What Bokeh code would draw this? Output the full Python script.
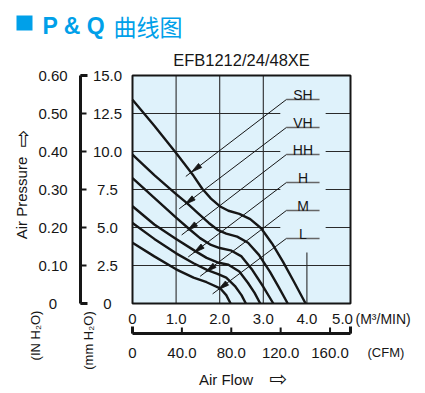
import math
from bokeh.plotting import figure
from bokeh.models import Range1d
from bokeh.embed import file_html
from bokeh.resources import INLINE
from bokeh.core.properties import value

FONT = "Liberation Sans"
BLUE = "#00a0e9"
BG = "#dff2fb"
INK = "#161616"

# ---------------- data ----------------
flow_ticks = [0, 1, 2, 3, 4, 5]
flow_tick_labels = ["0", "1.0", "2.0", "3.0", "4.0", "5.0"]
cfm_ticks = [0, 40, 80, 120, 160]
cfm_tick_labels = ["0", "40.0", "80.0", "120.0", "160.0"]
cfm_per_flow = 35.3147
mm_ticks = [0, 2.5, 5, 7.5, 10, 12.5, 15]
mm_tick_labels = ["0", "2.5", "5.0", "7.5", "10.0", "12.5", "15.0"]
in_ticks = [0, 0.1, 0.2, 0.3, 0.4, 0.5, 0.6]
in_tick_labels = ["0", "0.10", "0.20", "0.30", "0.40", "0.50", "0.60"]
mm_per_in_scale = 25.0

speed_names = ["SH", "VH", "HH", "H", "M", "L"]
sh_flow = [0, 0.5, 1.0, 1.4, 1.6, 1.8, 2.0, 2.2, 2.45, 2.7, 2.95, 3.2, 3.45, 3.7, 3.97]
sh_pres = [13.4, 11.7, 9.9, 8.4, 7.55, 6.9, 6.4, 6.1, 5.9, 5.55, 4.95, 3.95, 2.75, 1.45, 0]
vh_flow = [0, 0.5, 1.0, 1.25, 1.5, 1.75, 1.95, 2.15, 2.4, 2.65, 2.9, 3.15, 3.35, 3.56]
vh_pres = [9.8, 8.45, 7.2, 6.6, 5.95, 5.3, 4.85, 4.6, 4.4, 4.0, 3.2, 2.1, 1.1, 0]
hh_flow = [0, 0.5, 1.0, 1.3, 1.55, 1.8, 2.0, 2.25, 2.5, 2.75, 3.0, 3.23]
hh_pres = [8.25, 6.95, 5.65, 4.9, 4.3, 3.85, 3.65, 3.5, 3.1, 2.2, 1.1, 0]
h_flow = [0, 0.5, 1.0, 1.45, 1.7, 1.95, 2.2, 2.45, 2.65, 2.8, 2.93]
h_pres = [6.4, 5.2, 4.25, 3.43, 3.0, 2.7, 2.55, 2.1, 1.35, 0.7, 0]
m_flow = [0, 0.5, 1.0, 1.4, 1.72, 1.95, 2.15, 2.35, 2.5, 2.6]
m_pres = [5.3, 4.25, 3.3, 2.65, 2.2, 1.95, 1.7, 1.15, 0.55, 0]
l_flow = [0, 0.5, 1.0, 1.4, 1.7, 2.01, 2.15, 2.25]
l_pres = [4.0, 3.1, 2.25, 1.7, 1.4, 1.0, 0.55, 0]

curves_flow = [sh_flow, vh_flow, hh_flow, h_flow, m_flow, l_flow]
curves_pres = [sh_pres, vh_pres, hh_pres, h_pres, m_pres, l_pres]

# speed label callouts
label_level = [13.42, 11.58, 9.80, 7.96, 6.12, 4.28]
label_center = 3.91
underline_from, underline_to = 3.53, 4.29
arrow_tip_flow = [1.35, 1.20, 1.255, 1.406, 1.68, 1.966]
arrow_tip_pres = [8.64, 6.51, 4.79, 3.34, 2.07, 0.91]

# grid gaps (label area)
gap_left, gap_right, gap_bottom = 3.39, 4.43, 3.36

# ---------------- layout (pixel placement of chart) ----------------
W, H = 420, 392
OX, OY = 132, 303          # pixel of chart origin (0 flow, 0 pressure)
KX, KY = 43.6, 15.2        # pixels per unit


def fx(px):
    return (px - OX) / KX


def fy(py):
    return (OY - py) / KY


p = figure(width=W, height=H, x_range=Range1d(fx(0), fx(W)), y_range=Range1d(fy(H), fy(0)),
           output_backend="svg", toolbar_location=None,
           x_axis_location=None, y_axis_location=None, min_border=0,
           background_fill_color="white", border_fill_color="white")
p.outline_line_color = None
p.grid.visible = False
p.title.visible = False

x_lo, x_hi = flow_ticks[0], flow_ticks[-1]
y_lo, y_hi = mm_ticks[0], mm_ticks[-1]

# chart background
p.quad(left=[x_lo], right=[x_hi], bottom=[y_lo], top=[y_hi], fill_color=BG, line_color=None)

# grid
gx0, gy0, gx1, gy1 = [], [], [], []
for t in flow_ticks[1:4]:
    gx0.append(t); gy0.append(y_lo); gx1.append(t); gy1.append(y_hi)
gx0.append(flow_ticks[4]); gy0.append(y_lo); gx1.append(flow_ticks[4]); gy1.append(gap_bottom)
for t in mm_ticks[1:-1]:
    if t < gap_bottom:
        gx0.append(x_lo); gy0.append(t); gx1.append(x_hi); gy1.append(t)
    else:
        gx0 += [x_lo, gap_right]; gy0 += [t, t]; gx1 += [gap_left, x_hi]; gy1 += [t, t]
p.segment(gx0, gy0, gx1, gy1, line_color="#2a2a2a", line_width=1.1)

# curves
for cx, cy in zip(curves_flow, curves_pres):
    p.line(cx, cy, line_color=INK, line_width=2.4, line_join="round")

# callouts
p.segment([underline_from] * 6, label_level, [underline_to] * 6, label_level,
          line_color="#666666", line_width=1.5)
p.text([label_center] * 6, [v + 0.3 for v in label_level], text=speed_names,
       text_align="center", text_baseline="alphabetic", text_font=value(FONT),
       text_font_size="14px", text_color=INK)

lx0, ly0, lx1, ly1, hx, hy = [], [], [], [], [], []
for i in range(6):
    sx, sy = underline_from, label_level[i]
    tx, ty = arrow_tip_flow[i], arrow_tip_pres[i]
    dxp, dyp = (tx - sx) * KX, (ty - sy) * KY
    L = math.hypot(dxp, dyp)
    ux, uy = dxp / L, dyp / L
    lx0.append(sx); ly0.append(sy)
    lx1.append(tx + 7 * ux / KX); ly1.append(ty + 7 * uy / KY)
    bx, by = -11 * ux, -11 * uy
    nx, ny = -uy, ux
    hx.append([tx, tx + (bx + 2.6 * nx) / KX, tx + (bx - 2.6 * nx) / KX])
    hy.append([ty, ty + (by + 2.6 * ny) / KY, ty + (by - 2.6 * ny) / KY])
p.segment(lx0, ly0, lx1, ly1, line_color=INK, line_width=1)
p.patches(hx, hy, fill_color=INK, line_color=INK, line_width=0.8)

# chart frame
p.quad(left=[x_lo], right=[x_hi], bottom=[y_lo], top=[y_hi], fill_color=None,
       line_color=INK, line_width=2)


def txt(xs, ys, texts, size="15px", align="center", baseline="middle", angle=0.0,
        color=INK, style="normal", font=FONT, x_offset=0):
    p.text(xs, ys, text=texts, text_font=value(font), text_font_size=size,
           text_align=align, text_baseline=baseline, angle=angle, text_color=color,
           text_font_style=style, x_offset=x_offset)


# ---- left axes ----
txt([fx(107)] * len(mm_ticks), mm_ticks, mm_tick_labels)
in_y = [t * mm_per_in_scale for t in in_ticks]
bx_line = fx(80)
p.segment([bx_line], [in_y[0]], [bx_line], [in_y[-1]], line_color=INK, line_width=3)
p.segment([bx_line] * len(in_y), in_y, [fx(86)] * len(in_y), in_y, line_color=INK, line_width=2)
p.segment([bx_line] * 2, [in_y[0], in_y[-1]], [fx(87)] * 2, [in_y[0], in_y[-1]],
          line_color=INK, line_width=3)
txt([fx(52.5)] * len(in_y), in_y, in_tick_labels)

# ---- bottom axes ----
txt(flow_ticks[:-1], [fy(318)] * (len(flow_ticks) - 1), flow_tick_labels[:-1])
txt(flow_ticks[-1:], [fy(318)], flow_tick_labels[-1:], x_offset=-8)
txt([fx(355)], [fy(318)], ["(M\u00b3/MIN)"], size="14px", align="left")
cfm_x = [c / cfm_per_flow for c in cfm_ticks]
by_line = fy(333)
p.segment([x_lo], [by_line], [x_hi], [by_line], line_color=INK, line_width=3)
p.segment(cfm_x + [x_hi], [by_line] * (len(cfm_x) + 1), cfm_x + [x_hi],
          [fy(327)] * (len(cfm_x) + 1), line_color=INK, line_width=2)
p.segment([x_lo, x_hi], [by_line] * 2, [x_lo, x_hi], [fy(326)] * 2, line_color=INK, line_width=3)
txt(cfm_x, [fy(352)] * len(cfm_x), cfm_tick_labels)
txt([fx(367)], [fy(352)], ["(CFM)"], size="13px", align="left")

# axis titles
txt([fx(225.5)], [fy(379)], ["Air Flow"], size="15px")
txt([fx(277.5)], [fy(378)], ["\u21e8"], size="21px", font="DejaVu Sans")
txt([fx(21)], [fy(197.5)], ["Air Pressure"], size="15px", angle=math.pi / 2)
txt([fx(22.5)], [fy(138.5)], ["\u21e8"], size="21px", angle=math.pi / 2, font="DejaVu Sans")
txt([fx(35)], [fy(335)], ["(IN H\u2082O)"], size="13px", angle=math.pi / 2)
txt([fx(87.5)], [fy(340)], ["(mm H\u2082O)"], size="13px", angle=math.pi / 2)

# titles
txt([fx(241)], [fy(59)], ["EFB1212/24/48XE"], size="16.5px")
p.quad(left=[fx(16)], right=[fx(32)], top=[fy(15)], bottom=[fy(30)], fill_color=BLUE, line_color=None)
txt([fx(42)], [fy(25)], ["P & Q"], size="23px", align="left", style="bold", color=BLUE)
txt([fx(113)], [fy(25)], ["曲线图"], size="23px", align="left", color=BLUE, font="Noto Sans CJK SC")

open("out.html", "w").write(file_html(p, INLINE))
